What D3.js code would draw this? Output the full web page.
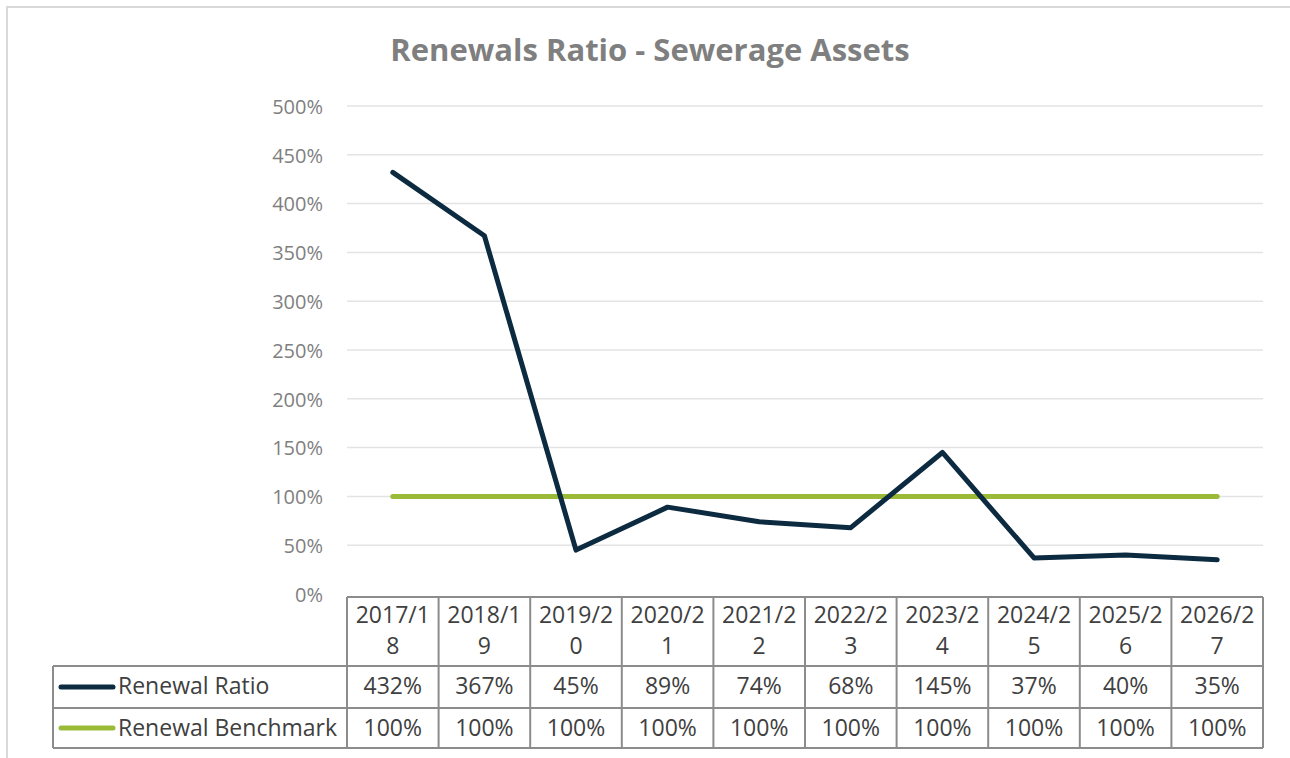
<!DOCTYPE html>
<html>
<head>
<meta charset="utf-8">
<script src="https://cdn.jsdelivr.net/npm/d3@7"></script>
<style>
  body { margin: 0; background: #fff; }
  text { font-family: "Open Sans", sans-serif; }
</style>
</head>
<body>
<script>
const WIDTH = 1290;
const HEIGHT = 758;

// data
const years = ["2017/18", "2018/19", "2019/20", "2020/21", "2021/22",
               "2022/23", "2023/24", "2024/25", "2025/26", "2026/27"];
const ratio = [432, 367, 45, 89, 74, 68, 145, 37, 40, 35];
const benchmark = [100, 100, 100, 100, 100, 100, 100, 100, 100, 100];
const yTicks = [0, 50, 100, 150, 200, 250, 300, 350, 400, 450, 500];

const series = [
  { name: "Renewal Ratio", values: ratio, color: "#0c2a40" },
  { name: "Renewal Benchmark", values: benchmark, color: "#9bbb38" }
];

const PLOT_L = 347, PLOT_R = 1263, PLOT_T = 106, PLOT_B = 594;
const TABLE_L = 53;
const ROW_Y = [597, 666, 708, 748];   // table row edges

let svg = d3.select("body")
            .append("svg")
            .attr("width", WIDTH)
            .attr("height", HEIGHT);

// outer chart frame
svg.append("rect")
   .attr("x", 7).attr("y", 7)
   .attr("width", 1300).attr("height", 800)
   .attr("fill", "#fff")
   .attr("stroke", "#d9d9d9")
   .attr("stroke-width", 2);

svg.append("text")
   .attr("x", 650).attr("y", 61)
   .attr("text-anchor", "middle")
   .attr("font-size", 31)
   .attr("font-weight", "bold")
   .attr("fill", "#7f7f7f")
   .text("Renewals Ratio - Sewerage Assets");

let x = d3.scaleBand().domain(years).range([PLOT_L, PLOT_R]);
let y = d3.scaleLinear().domain([0, 500]).range([PLOT_B, PLOT_T]);

// gridlines
svg.append("g")
   .selectAll("line")
   .data(yTicks.filter(d => d > 0))
   .enter().append("line")
   .attr("x1", PLOT_L).attr("x2", PLOT_R)
   .attr("y1", d => y(d)).attr("y2", d => y(d))
   .attr("stroke", "#e3e3e3")
   .attr("stroke-width", 1.5);

// y axis labels
let yAxis = svg.append("g")
               .attr("transform", `translate(${PLOT_L - 24},0)`)
               .call(d3.axisLeft(y).tickValues(yTicks).tickSize(0).tickFormat(d => d + "%"));
yAxis.select(".domain").remove();
yAxis.selectAll("text")
     .attr("font-family", "Open Sans, sans-serif")
     .attr("font-size", 20)
     .attr("fill", "#7f7f7f")
     .attr("dy", "0.36em")
     .attr("x", 0);

// lines
let line = d3.line()
             .x((d, i) => x(years[i]) + x.bandwidth() / 2)
             .y(d => y(d));

svg.selectAll("path.series")
   .data(series.slice().reverse())
   .enter().append("path")
   .attr("class", "series")
   .attr("d", d => line(d.values))
   .attr("fill", "none")
   .attr("stroke", d => d.color)
   .attr("stroke-width", 5)
   .attr("stroke-linejoin", "round")
   .attr("stroke-linecap", "round");

// data table grid
let tbl = svg.append("g")
             .attr("fill", "none")
             .attr("stroke", "#8c8c8c")
             .attr("stroke-width", 2);

tbl.append("line").attr("x1", PLOT_L).attr("x2", PLOT_R).attr("y1", ROW_Y[0]).attr("y2", ROW_Y[0]);
tbl.selectAll("line.row")
   .data(ROW_Y.slice(1))
   .enter().append("line")
   .attr("class", "row")
   .attr("x1", TABLE_L).attr("x2", PLOT_R)
   .attr("y1", d => d).attr("y2", d => d);
tbl.append("line").attr("x1", TABLE_L).attr("x2", TABLE_L).attr("y1", ROW_Y[1]).attr("y2", ROW_Y[3]);
tbl.selectAll("line.col")
   .data(years.map(d => x(d)).concat([PLOT_R]))
   .enter().append("line")
   .attr("class", "col")
   .attr("x1", d => d).attr("x2", d => d)
   .attr("y1", ROW_Y[0]).attr("y2", ROW_Y[3]);

const TXT = "#404040";
const FS = 23;

// header labels, wrapped like the original
let head = svg.append("g")
              .selectAll("text")
              .data(years)
              .enter().append("text")
              .attr("text-anchor", "middle")
              .attr("font-size", FS)
              .attr("fill", TXT);
head.append("tspan")
    .attr("x", d => x(d) + x.bandwidth() / 2)
    .attr("y", 623)
    .text(d => d.slice(0, 6));
head.append("tspan")
    .attr("x", d => x(d) + x.bandwidth() / 2)
    .attr("y", 654)
    .text(d => d.slice(6));

// value rows with legend keys
const baselines = [694, 736];
series.forEach((s, r) => {
  const base = baselines[r];
  const mid = (ROW_Y[r + 1] + ROW_Y[r + 2]) / 2;
  svg.append("g")
     .selectAll("text")
     .data(s.values)
     .enter().append("text")
     .attr("x", (d, i) => x(years[i]) + x.bandwidth() / 2)
     .attr("y", base)
     .attr("text-anchor", "middle")
     .attr("font-size", FS)
     .attr("fill", TXT)
     .text(d => d + "%");

  svg.append("line")
     .attr("x1", 61).attr("x2", 113)
     .attr("y1", mid).attr("y2", mid)
     .attr("stroke", s.color)
     .attr("stroke-width", 5)
     .attr("stroke-linecap", "round");

  svg.append("text")
     .attr("x", 118)
     .attr("y", base)
     .attr("font-size", FS)
     .attr("fill", TXT)
     .text(s.name);
});
</script>
</body>
</html>
